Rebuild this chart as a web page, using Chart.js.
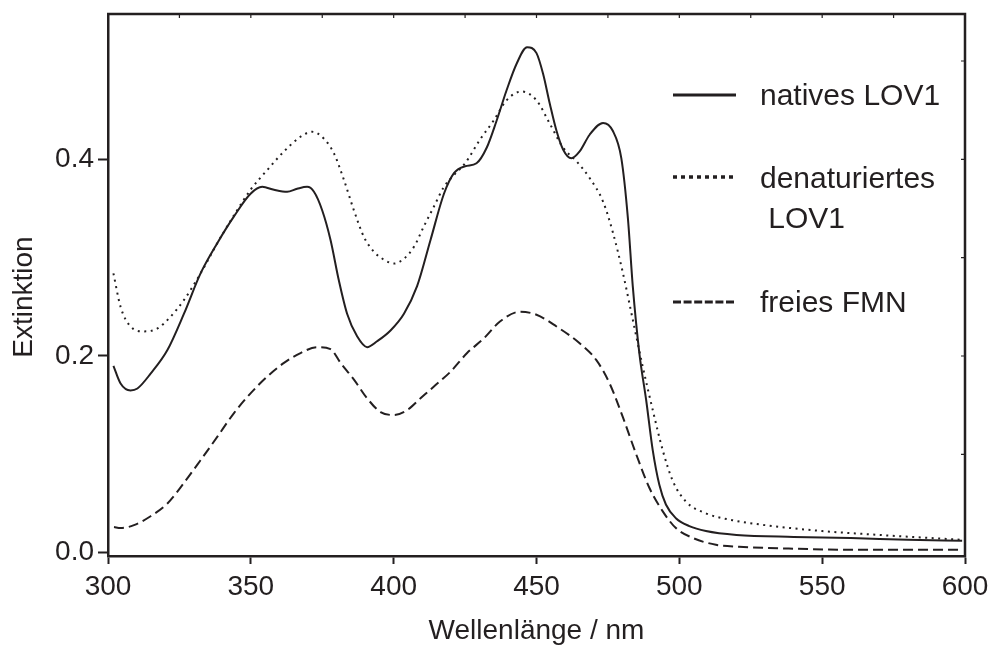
<!DOCTYPE html>
<html>
<head>
<meta charset="utf-8">
<title>Extinktion LOV1</title>
<script src="https://cdn.jsdelivr.net/npm/chart.js@4.4.1/dist/chart.umd.min.js"></script>
<style>
  html, body { margin: 0; padding: 0; background: #fff; }
  canvas { display: block; }
</style>
</head>
<body>
<canvas id="spektrum" width="994" height="646"></canvas>
<script>
// Absorptionsspektren: Wellenlänge (nm) und Extinktion
const wlNativ = [301.9, 304.4, 307.9, 310.3, 314.9, 320.8, 326.6, 332.4, 338.3, 344.1, 349.9, 354.0,
  358.1, 362.7, 366.2, 369.7, 372.1, 375.0, 377.9, 380.8, 383.7, 387.2, 390.7, 394.2, 398.9, 403.6,
  408.2, 412.9, 417.6, 421.1, 425.0, 429.0, 432.6, 436.0, 439.5, 443.0, 446.7, 450.0, 452.3, 454.7,
  457.0, 459.3, 462.2, 465.1, 468.6, 473.3, 476.7, 479.7, 482.0, 483.7, 486.0, 488.4, 490.7, 493.0,
  495.3, 498.8, 503.5, 509.3, 520, 540, 560, 580, 599];
const extNativ = [0.190, 0.172, 0.165, 0.167, 0.182, 0.206, 0.243, 0.284, 0.315, 0.342, 0.365, 0.372,
  0.369, 0.367, 0.370, 0.372, 0.367, 0.348, 0.318, 0.277, 0.243, 0.220, 0.209, 0.215, 0.226, 0.243,
  0.271, 0.318, 0.365, 0.386, 0.393, 0.396, 0.412, 0.439, 0.470, 0.497, 0.514, 0.508, 0.487, 0.456,
  0.429, 0.410, 0.401, 0.408, 0.425, 0.437, 0.429, 0.401, 0.340, 0.271, 0.203, 0.155, 0.104, 0.069,
  0.049, 0.035, 0.027, 0.022, 0.018, 0.016, 0.015, 0.013, 0.012];

const wlDenat = [301.9, 304.4, 307.9, 312.6, 317.3, 321.9, 326.6, 332.4, 338.3, 344.1, 349.9, 355.7,
  361.6, 367.4, 371.5, 375.6, 379.1, 382.6, 386.1, 389.6, 393.1, 396.6, 400.1, 403.6, 407.1, 410.6,
  414.1, 417.6, 421.1, 425.0, 430.2, 434.9, 439.5, 444.8, 450.0, 454.7, 459.3, 464.0, 468.6, 473.3,
  476.7, 480.2, 483.7, 487.2, 490.7, 494.2, 497.7, 502.3, 509.3, 518.6, 530, 550, 570, 599];
const extDenat = [0.284, 0.250, 0.230, 0.225, 0.228, 0.240, 0.257, 0.284, 0.315, 0.343, 0.369, 0.389,
  0.408, 0.423, 0.428, 0.421, 0.406, 0.379, 0.348, 0.321, 0.306, 0.298, 0.294, 0.299, 0.311, 0.332,
  0.352, 0.372, 0.384, 0.396, 0.420, 0.439, 0.460, 0.469, 0.460, 0.436, 0.412, 0.398, 0.381, 0.357,
  0.326, 0.285, 0.237, 0.189, 0.145, 0.104, 0.073, 0.052, 0.040, 0.033, 0.028, 0.022, 0.018, 0.013];

const wlFmn = [302.1, 304.4, 309.1, 314.9, 320.8, 326.6, 332.4, 338.3, 344.1, 349.9, 355.7, 361.6,
  367.4, 373.2, 377.9, 381.4, 386.1, 390.7, 395.4, 400.1, 404.7, 409.4, 414.1, 419.9, 425.7, 431.6,
  437.2, 444.2, 450.0, 457.0, 465.1, 470.9, 475.6, 480.2, 484.9, 489.5, 494.2, 498.8, 504.7, 512.8,
  520.9, 540, 560, 599];
const extFmn = [0.026, 0.025, 0.028, 0.037, 0.050, 0.071, 0.094, 0.118, 0.142, 0.162, 0.179, 0.193,
  0.203, 0.209, 0.207, 0.193, 0.176, 0.157, 0.143, 0.140, 0.145, 0.157, 0.169, 0.184, 0.203, 0.218,
  0.235, 0.245, 0.242, 0.230, 0.213, 0.196, 0.172, 0.138, 0.100, 0.066, 0.042, 0.025, 0.015, 0.008,
  0.006, 0.004, 0.003, 0.003];

const seriesNames = ['natives LOV1', 'denaturiertes LOV1', 'freies FMN'];
const xTicks = [300, 350, 400, 450, 500, 550, 600];
const yTicks = [0, 0.2, 0.4];

const ink = '#231f20';
const family = '"Liberation Sans", Arial, Helvetica, sans-serif';
Chart.defaults.font.family = family;
Chart.defaults.color = ink;

function toPoints(xs, ys) {
  return xs.map((x, i) => ({ x: x, y: ys[i] }));
}

// Rahmen oben/rechts, kleine Striche, y-Titel und Legende
const rahmen = {
  id: 'rahmen',
  afterDraw(chart) {
    const ctx = chart.ctx;
    const a = chart.chartArea;
    const sx = chart.scales.x, sy = chart.scales.y;
    ctx.save();
    ctx.strokeStyle = ink;
    ctx.lineWidth = 2.5;
    ctx.beginPath();
    ctx.moveTo(a.left - 1, a.top);
    ctx.lineTo(a.right, a.top);
    ctx.lineTo(a.right, a.bottom + 1);
    ctx.stroke();

    ctx.lineWidth = 1.2;
    ctx.beginPath();
    for (let v = 325; v < 600; v += 25) {
      const px = sx.getPixelForValue(v);
      ctx.moveTo(px, a.top);
      ctx.lineTo(px, a.top + 4);
    }
    for (let v = 0.1; v < 0.55; v += 0.1) {
      const py = sy.getPixelForValue(v);
      ctx.moveTo(a.right, py);
      ctx.lineTo(a.right - 4, py);
    }
    ctx.stroke();

    // y-Achsentitel
    ctx.fillStyle = ink;
    ctx.font = '28px ' + family;
    ctx.translate(32, 297);
    ctx.rotate(-Math.PI / 2);
    ctx.textAlign = 'center';
    ctx.textBaseline = 'alphabetic';
    ctx.fillText('Extinktion', 0, 0);
    ctx.restore();

    // Legende
    const rows = [
      { lineY: 95, text: [['natives LOV1', 105]], dash: [], width: 3 },
      { lineY: 177, text: [['denaturiertes', 188], [' LOV1', 228]], dash: [4, 4], width: 3.5 },
      { lineY: 302, text: [['freies FMN', 312]], dash: [8, 2.6], width: 3 }
    ];
    ctx.save();
    ctx.strokeStyle = ink;
    ctx.fillStyle = ink;
    ctx.font = '30px ' + family;
    ctx.textBaseline = 'alphabetic';
    rows.forEach((r) => {
      ctx.lineWidth = r.width;
      ctx.setLineDash(r.dash);
      ctx.beginPath();
      ctx.moveTo(673, r.lineY);
      ctx.lineTo(736, r.lineY);
      ctx.stroke();
      r.text.forEach(([t, y]) => ctx.fillText(t, 760, y));
    });
    ctx.restore();
  }
};

const lineStyle = {
  borderColor: ink,
  borderWidth: 2,
  pointRadius: 0,
  fill: false,
  cubicInterpolationMode: 'monotone'
};

new Chart(document.getElementById('spektrum'), {
  type: 'line',
  data: {
    datasets: [
      Object.assign({ label: seriesNames[0], data: toPoints(wlNativ, extNativ) }, lineStyle),
      Object.assign({ label: seriesNames[1], data: toPoints(wlDenat, extDenat), borderDash: [2, 4.5] }, lineStyle),
      Object.assign({ label: seriesNames[2], data: toPoints(wlFmn, extFmn), borderDash: [10, 5] }, lineStyle)
    ]
  },
  options: {
    responsive: false,
    animation: false,
    layout: { padding: { top: 14, right: 29, left: 0, bottom: 0 } },
    plugins: { legend: { display: false }, tooltip: { enabled: false } },
    scales: {
      x: {
        type: 'linear',
        min: 300,
        max: 600,
        afterFit: (s) => { s.height = 90; s.paddingLeft = 0; s.paddingRight = 0; },
        afterBuildTicks: (s) => { s.ticks = xTicks.map((v) => ({ value: v })); },
        ticks: { font: { size: 28 }, color: ink, padding: 6, maxRotation: 0 },
        grid: { drawOnChartArea: false, tickLength: 8, tickWidth: 2, tickColor: ink },
        border: { color: ink, width: 2.5 },
        title: {
          display: true,
          text: 'Wellenlänge / nm',
          color: ink,
          font: { size: 28 },
          padding: { top: 0, bottom: -2 }
        }
      },
      y: {
        min: -0.0034,
        max: 0.5478,
        afterFit: (s) => { s.width = 108; s.paddingTop = 0; s.paddingBottom = 0; },
        afterBuildTicks: (s) => { s.ticks = yTicks.map((v) => ({ value: v })); },
        ticks: { font: { size: 28 }, color: ink, padding: 4, callback: (v) => v.toFixed(1) },
        grid: { drawOnChartArea: false, tickLength: 10, tickWidth: 2, tickColor: ink },
        border: { color: ink, width: 2.5 }
      }
    }
  },
  plugins: [rahmen]
});
</script>
</body>
</html>
